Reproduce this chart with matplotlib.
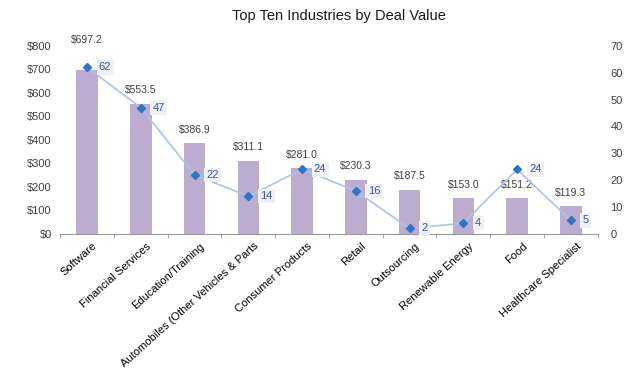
import numpy as np
import matplotlib.pyplot as plt

plt.rcParams['font.family'] = ['Liberation Sans', 'DejaVu Sans']

# --- data ---
industries = ["Software", "Financial Services", "Education/Training",
              "Automobiles (Other Vehicles & Parts", "Consumer Products", "Retail",
              "Outsourcing", "Renewable Energy", "Food", "Healthcare Specialist"]
deal_value = [697.2, 553.5, 386.9, 311.1, 281.0, 230.3, 187.5, 153.0, 151.2, 119.3]
deal_count = [62, 47, 22, 14, 24, 16, 2, 4, 24, 5]

x = np.arange(len(industries))

fig = plt.figure(figsize=(6.4, 3.73), dpi=100)
ax = fig.add_axes([0.094, 0.373, 0.84, 0.504])

ax.bar(x, deal_value, width=0.4, color='#BCADD0', zorder=2)
for i, (xi, v) in enumerate(zip(x, deal_value)):
    # first label sits higher so it clears the line marker
    off = 18 if i == 0 else 6
    ax.annotate(f"${v:.1f}", (xi, v), xytext=(0, off), textcoords='offset points',
                ha='center', va='bottom', fontsize=7.5, color='#404040')

ax.set_xlim(-0.5, len(industries) - 0.5)
ax.set_ylim(0, 800)
ax.set_yticks(np.arange(0, 801, 100))
ax.set_yticklabels([f"${t}" for t in range(0, 801, 100)])
ax.set_xticks(x + 0.1)
ax.set_xticklabels(industries, rotation=42, ha='right', rotation_mode='anchor', fontsize=8)
ax.set_xticks(np.arange(-0.5, len(industries)), minor=True)
ax.tick_params(axis='x', which='major', length=0, pad=5)
ax.tick_params(axis='x', which='minor', length=3, color='#999999')
ax.tick_params(axis='y', length=0, labelsize=8, labelcolor='#404040', pad=6)
for s in ['top', 'right', 'left']:
    ax.spines[s].set_visible(False)
ax.spines['bottom'].set_color('#999999')

ax2 = ax.twinx()
ax2.plot(x, deal_count, color='#A9C4EA', lw=1.2, marker='D', ms=4,
         mfc='#2E75C6', mec='#2E75C6', zorder=3)
for xi, c in zip(x, deal_count):
    ax2.text(xi + 0.22, c, str(c), ha='left', va='center', fontsize=8, color='#3A55B5',
             bbox=dict(boxstyle='square,pad=0.2', fc='#EEF0F6', ec='none'))
ax2.set_ylim(0, 70)
ax2.set_yticks(np.arange(0, 71, 10))
ax2.tick_params(axis='y', length=0, labelsize=8, labelcolor='#404040', pad=9)
for s in ['top', 'right', 'left', 'bottom']:
    ax2.spines[s].set_visible(False)

fig.text(0.53, 0.958, "Top Ten Industries by Deal Value", ha='center', va='center',
         fontsize=10.5, color='#1a1a1a')

fig.savefig("out.png", dpi=100)
